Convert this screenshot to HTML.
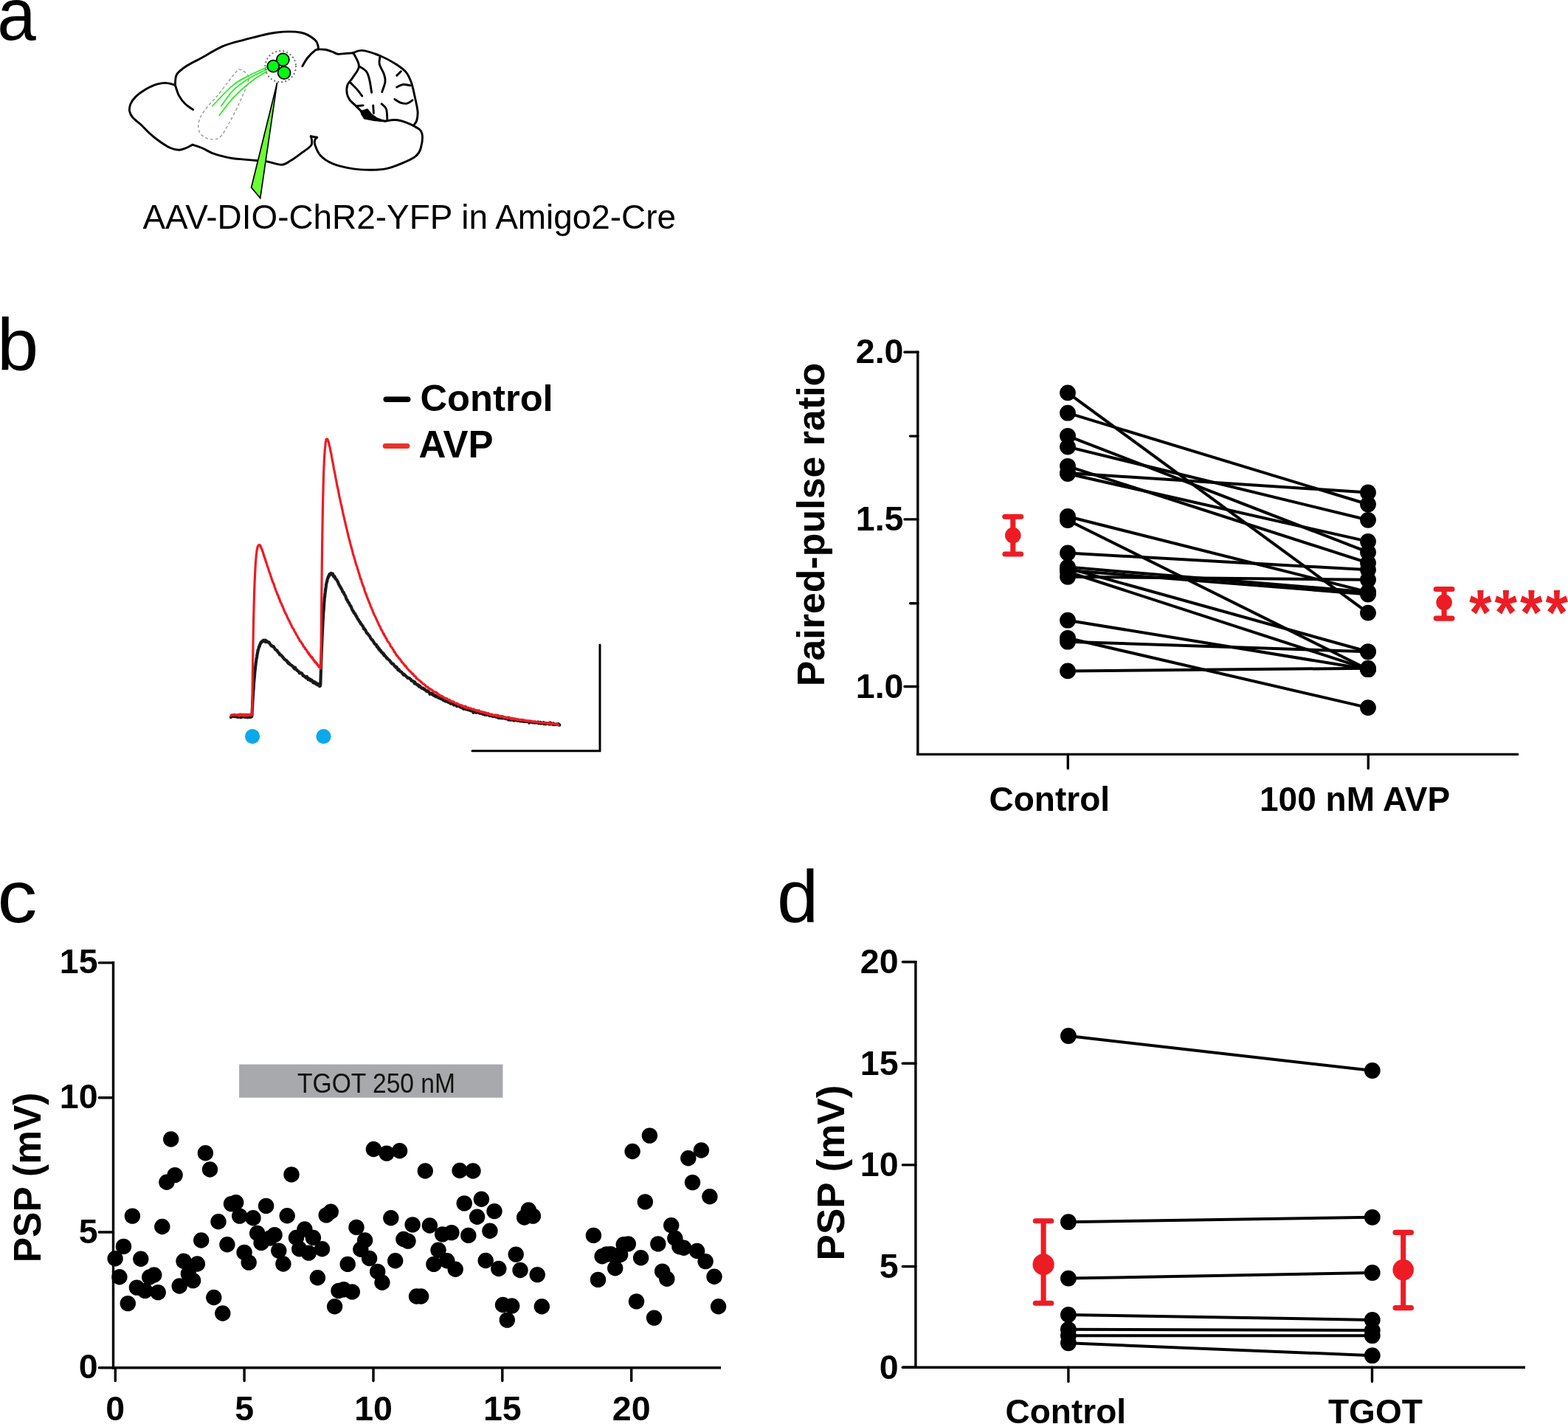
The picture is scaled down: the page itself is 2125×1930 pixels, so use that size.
<!DOCTYPE html>
<html><head><meta charset="utf-8"><title>Figure</title>
<style>
html,body{margin:0;padding:0;background:#fff;}
body{width:2125px;height:1930px;overflow:hidden;position:relative;}
svg{position:absolute;left:0;top:0;display:block;font-family:'Liberation Sans', Arial, Helvetica, sans-serif;}
</style></head><body>
<svg width="2125" height="1930" viewBox="0 0 2125 1930">
<rect x="0" y="0" width="2125" height="1930" fill="#fff"/>
<text transform="translate(-3.8,54) scale(0.935,1)" font-size="101">a</text>
<text x="-4.0" y="501.5" font-size="101" font-weight="normal" text-anchor="start" fill="#000" >b</text>
<text transform="translate(-3.6,1250.3) scale(1.065,1)" font-size="101">c</text>
<text x="1053.0" y="1250.3" font-size="101" font-weight="normal" text-anchor="start" fill="#000" >d</text>
<path d="M237.4,115.2 C237.8,112.8 237.0,105.2 239.5,101.0 C242.0,96.8 246.6,93.5 252.3,89.7 C258.0,85.9 265.3,82.8 273.6,78.3 C281.9,73.8 292.5,66.7 302.0,62.7 C311.5,58.7 318.7,57.2 330.5,54.1 C342.3,51.0 360.0,45.9 373.0,44.2 C386.0,42.6 399.4,42.6 408.4,44.2 C417.4,45.9 423.1,51.0 426.9,54.1 C430.7,57.2 430.4,60.6 431.1,62.7 C431.8,64.8 431.1,66.2 431.1,66.9" fill="none" stroke="#000" stroke-width="2.9" stroke-linecap="round" stroke-linejoin="round"/>
<path d="M431.1,66.9 C432.8,67.0 438.0,66.7 441.1,67.2 C444.2,67.7 447.2,69.0 450.0,70.0 C452.8,71.0 455.1,72.9 458.1,73.3 C461.1,73.7 464.7,72.7 468.0,72.5 C471.3,72.3 476.3,72.0 478.0,71.9" fill="none" stroke="#000" stroke-width="2.9" stroke-linecap="round"/>
<path d="M478.0,71.9 C480.1,71.3 484.7,67.8 490.8,68.4 C496.9,69.0 507.3,72.4 514.9,75.5 C522.5,78.6 530.4,83.0 536.3,86.8 C542.2,90.6 547.0,93.9 550.5,98.2 C554.0,102.5 555.7,107.2 557.6,112.4 C559.5,117.6 560.4,123.0 561.8,129.4 C563.2,135.8 565.5,145.0 566.0,150.7 C566.5,156.4 565.6,160.3 564.7,163.5 C563.8,166.7 561.1,168.9 560.4,170.0" fill="none" stroke="#000" stroke-width="2.9" stroke-linecap="round"/>
<path d="M431.1,66.9 C430.4,67.2 429.3,66.5 426.9,68.4 C424.5,70.3 419.8,74.8 416.9,78.3 C414.0,81.8 411.0,87.8 409.8,89.7" fill="none" stroke="#000" stroke-width="2.9" stroke-linecap="round"/>
<path d="M237.4,115.2 C235.2,114.7 228.5,112.4 223.9,112.4 C219.3,112.4 214.4,113.6 209.7,115.2 C205.0,116.8 199.8,119.7 195.5,122.3 C191.2,124.9 187.2,127.8 184.1,130.9 C181.0,134.0 178.4,137.5 177.0,140.8 C175.6,144.1 175.1,147.6 175.6,150.7 C176.1,153.8 177.3,156.2 179.9,159.3 C182.5,162.4 187.5,165.6 191.3,169.2 C195.1,172.8 198.3,176.8 202.6,180.6 C206.8,184.4 212.1,188.7 216.8,192.0 C221.5,195.3 226.7,198.6 231.0,200.5 C235.3,202.4 238.8,203.3 242.4,203.3 C246.0,203.3 249.2,201.7 252.3,200.5 C255.4,199.3 259.5,196.9 260.9,196.2" fill="none" stroke="#000" stroke-width="2.9" stroke-linecap="round"/>
<path d="M260.9,196.2 C263.0,196.9 269.1,198.6 273.6,200.5 C278.1,202.4 283.1,205.7 287.8,207.6 C292.5,209.5 297.3,210.6 302.0,211.8 C306.7,213.0 311.4,214.0 316.2,214.7 C320.9,215.4 325.5,215.6 330.5,216.1 C335.5,216.6 340.8,217.0 346.0,217.5 C351.2,218.0 355.8,218.0 361.7,218.9 C367.6,219.8 376.2,223.4 381.6,223.2 C387.0,223.0 389.7,220.1 394.2,217.5 C398.7,214.9 403.9,210.9 408.4,207.6 C412.9,204.3 418.8,200.4 421.2,197.6 C423.6,194.8 422.6,192.6 422.6,190.5 C422.6,188.4 421.4,185.8 421.2,184.8" fill="none" stroke="#000" stroke-width="2.9" stroke-linecap="round" stroke-linejoin="round"/>
<path d="M421.2,184.8 L429.7,186.2" fill="none" stroke="#000" stroke-width="2.9" stroke-linecap="round"/>
<path d="M429.7,186.2 C429.2,186.8 427.4,187.8 426.9,189.5 C426.4,191.2 425.7,192.7 426.9,196.2 C428.1,199.7 430.0,206.1 434.0,210.4 C438.0,214.7 443.4,218.7 451.0,221.8 C458.6,224.9 471.1,227.5 479.4,228.9 C487.7,230.3 493.6,230.3 500.7,230.3 C507.8,230.3 514.9,230.3 522.0,228.9 C529.1,227.5 536.5,224.7 543.4,221.8 C550.3,219.0 558.7,215.4 563.2,211.8 C567.7,208.2 568.9,205.7 570.3,200.5 C571.7,195.3 573.2,185.5 571.8,180.6 C570.4,175.7 567.3,174.3 561.8,171.3 C556.3,168.3 545.6,164.0 539.0,162.8 C532.4,161.6 524.8,164.0 522.0,164.2" fill="none" stroke="#000" stroke-width="2.9" stroke-linecap="round" stroke-linejoin="round"/>
<path d="M237.4,115.2 C238.2,117.6 240.2,125.1 242.4,129.4 C244.7,133.7 247.7,137.6 250.9,140.8 C254.1,144.0 259.8,147.3 261.6,148.6" fill="none" stroke="#000" stroke-width="2.9" stroke-linecap="round"/>
<path d="M479.4,72.6 C480.6,75.4 486.7,84.2 486.5,89.7 C486.3,95.2 480.6,101.0 478.0,105.3 C475.4,109.5 472.2,111.7 470.9,115.2 C469.6,118.8 469.7,123.3 470.2,126.6 C470.7,129.9 471.8,132.3 473.8,135.1 C475.8,137.9 479.7,141.0 482.3,143.6 C484.9,146.2 487.3,148.3 489.4,150.7 C491.5,153.1 494.1,156.6 495.0,157.8" fill="none" stroke="#000" stroke-width="2.9" stroke-linecap="round"/>
<path d="M486.5,89.7 C488.2,90.9 494.1,93.7 496.5,96.8 C498.9,99.9 499.5,103.4 500.7,108.1 C501.9,112.8 503.1,122.3 503.6,125.2" fill="none" stroke="#000" stroke-width="2.9" stroke-linecap="round"/>
<path d="M515.0,76.9 C514.9,78.6 513.3,82.8 514.2,86.8 C515.1,90.8 519.3,97.0 520.6,101.0 C521.9,105.0 522.5,107.1 522.0,111.0 C521.5,114.9 518.5,122.2 517.8,124.5" fill="none" stroke="#000" stroke-width="2.9" stroke-linecap="round"/>
<path d="M537.7,102.4 C538.7,101.5 542.5,97.7 543.4,96.8" fill="none" stroke="#000" stroke-width="2.9" stroke-linecap="round"/>
<path d="M537.7,118.1 C539.1,117.5 543.1,114.9 546.2,114.5 C549.3,114.1 554.5,115.7 556.1,115.9" fill="none" stroke="#000" stroke-width="2.9" stroke-linecap="round"/>
<path d="M534.8,134.4 C536.2,135.2 540.5,138.5 543.4,139.4 C546.2,140.3 549.3,140.7 551.9,140.1 C554.5,139.5 557.8,136.5 559.0,135.8" fill="none" stroke="#000" stroke-width="2.9" stroke-linecap="round"/>
<path d="M475.2,112.4 C476.6,113.8 481.1,118.0 483.7,120.9 C486.3,123.9 489.6,128.6 490.8,130.1" fill="none" stroke="#000" stroke-width="2.9" stroke-linecap="round"/>
<path d="M483.7,143.6 C485.1,143.5 490.8,143.0 492.2,142.9" fill="none" stroke="#000" stroke-width="2.9" stroke-linecap="round"/>
<path d="M505.7,142.9 C505.8,144.7 506.3,151.8 506.4,153.6" fill="none" stroke="#000" stroke-width="2.9" stroke-linecap="round"/>
<path d="M517.1,140.8 C518.2,142.0 522.2,144.1 523.5,147.9 C524.8,151.7 524.7,160.9 524.9,163.5" fill="none" stroke="#000" stroke-width="2.9" stroke-linecap="round"/>
<path d="M488.7,150.7 L497.9,147.9 L503.6,155 L510.7,160 L522,164.2 L507.8,163.5 L493.6,160.7 L490.1,155 Z" fill="#000" stroke="#000" stroke-width="1.5" stroke-linejoin="round"/>
<path d="M495.0,157.8 C497.1,158.5 503.3,160.9 507.8,162.0 C512.3,163.1 519.6,163.8 522.0,164.2" fill="none" stroke="#000" stroke-width="2.9"/>
<path d="M323.4,93.9 C324.4,94.2 327.4,94.3 329.7,96.0 C331.9,97.7 336.1,100.7 336.9,103.9 C337.7,107.1 336.2,110.5 334.7,115.2 C333.1,119.9 330.2,126.4 327.6,132.3 C325.0,138.2 322.2,144.5 319.1,150.7 C316.0,156.8 312.4,163.5 309.1,169.2 C305.8,174.9 302.8,181.5 299.2,184.8 C295.6,188.1 292.1,189.3 287.8,189.1 C283.5,188.9 276.8,186.2 273.6,183.4 C270.4,180.6 268.9,176.3 268.7,172.0 C268.5,167.7 269.9,162.5 272.2,157.8 C274.4,153.1 278.4,148.3 282.2,143.6 C286.0,138.9 290.4,134.8 294.9,129.4 C299.4,124.0 305.1,116.2 309.1,111.0 C313.1,105.8 316.7,101.0 319.1,98.2 C321.5,95.4 322.7,94.6 323.4,93.9" fill="none" stroke="#999" stroke-width="1.4" stroke-dasharray="4,3"/>
<path d="M361.7,91.1 C357.7,93.0 345.2,98.4 337.6,102.4 C330.0,106.4 324.5,108.3 316.2,115.2 C307.9,122.1 292.5,138.9 287.8,143.6" fill="none" stroke="#22F022" stroke-width="1.7" stroke-linecap="round"/>
<path d="M361.7,93.9 C357.9,95.8 346.6,100.6 339.0,105.3 C331.4,110.0 322.7,115.9 316.2,122.3 C309.7,128.7 302.6,140.0 299.9,143.6" fill="none" stroke="#22F022" stroke-width="1.7" stroke-linecap="round"/>
<path d="M361.7,96.8 C358.4,98.9 349.4,103.6 341.8,109.5 C334.2,115.4 323.6,124.5 316.2,132.3 C308.8,140.1 300.3,152.4 297.1,156.4" fill="none" stroke="#22F022" stroke-width="1.7" stroke-linecap="round"/>
<ellipse cx="380.2" cy="90.2" rx="20.8" ry="21.1" fill="none" stroke="#707070" stroke-width="2.3" stroke-dasharray="0.01,5.1" stroke-linecap="round"/>
<path d="M375.6,112 L340.6,254.1 L352.7,268.6 Z" fill="#6BFF33" stroke="#000" stroke-width="1.7" stroke-linejoin="miter"/>
<circle cx="383.4" cy="80.8" r="8.5" fill="#05FA10" stroke="#000" stroke-width="1.8"/>
<circle cx="370.3" cy="89.7" r="8.0" fill="#05FA10" stroke="#000" stroke-width="1.8"/>
<circle cx="385.1" cy="98.6" r="8.5" fill="#05FA10" stroke="#000" stroke-width="1.8"/>
<text x="193.4" y="310.0" font-size="45.9" font-weight="normal" text-anchor="start" fill="#000" >AAV-DIO-ChR2-YFP in Amigo2-Cre</text>
<path d="M313.00,972.14 L313.70,971.40 L314.40,971.21 L315.10,970.14 L315.80,971.01 L316.50,970.97 L317.20,971.12 L317.90,970.82 L318.60,971.14 L319.30,970.90 L320.00,970.44 L320.70,971.65 L321.40,971.65 L322.10,972.10 L322.35,971.19 L322.60,970.94 L322.85,970.86 L323.10,970.31 L323.35,971.70 L323.60,970.56 L323.85,970.51 L324.10,971.05 L324.35,971.98 L324.60,971.29 L324.85,970.60 L325.10,970.77 L325.35,971.50 L325.60,971.07 L325.85,970.74 L326.10,971.03 L326.35,971.57 L326.60,972.25 L326.85,970.48 L327.10,970.82 L327.35,970.72 L327.60,969.83 L327.85,970.65 L328.10,970.60 L328.35,971.78 L328.60,971.09 L328.85,970.27 L329.10,971.52 L329.35,970.96 L329.60,970.20 L329.85,970.83 L330.10,970.84 L330.35,970.68 L330.60,971.18 L330.85,969.92 L331.10,971.01 L331.35,971.72 L331.60,971.63 L331.85,971.77 L332.10,971.78 L332.35,971.98 L332.60,970.55 L332.85,971.63 L333.10,970.14 L333.35,970.83 L333.60,970.11 L333.85,971.74 L334.10,971.89 L334.35,971.05 L334.60,972.14 L334.85,970.79 L335.10,971.24 L335.35,971.24 L335.60,970.58 L335.85,971.40 L336.10,972.23 L336.35,970.60 L336.60,971.66 L336.85,971.08 L337.10,972.13 L337.35,971.43 L337.60,971.53 L337.85,971.51 L338.10,971.30 L338.35,970.39 L338.60,971.93 L338.85,970.41 L339.10,971.29 L339.35,971.50 L339.60,970.70 L339.85,971.24 L340.10,971.80 L340.35,971.15 L340.60,970.67 L340.85,969.56 L341.10,970.63 L341.35,970.84 L341.60,966.70 L341.85,961.45 L342.10,957.40 L342.35,952.30 L342.60,948.19 L342.85,944.45 L343.10,939.61 L343.35,936.11 L343.60,933.82 L343.85,929.64 L344.10,925.14 L344.35,922.64 L344.60,919.98 L344.85,917.46 L345.10,914.12 L345.35,911.13 L345.60,908.53 L345.85,906.91 L346.10,904.46 L346.35,901.85 L346.60,899.97 L346.85,897.90 L347.10,896.67 L347.35,894.12 L347.60,893.09 L347.85,891.70 L348.10,889.98 L348.35,887.82 L348.60,887.65 L348.85,885.25 L349.10,884.63 L349.35,882.82 L349.60,881.18 L349.85,881.22 L350.10,880.28 L350.35,879.15 L350.60,878.47 L350.85,877.14 L351.10,876.32 L351.35,875.90 L351.60,876.36 L351.85,875.12 L352.10,873.79 L352.35,873.82 L352.60,872.72 L352.85,872.25 L353.10,872.52 L353.35,871.34 L353.60,870.31 L353.85,870.38 L354.10,870.59 L354.35,870.31 L354.60,870.65 L354.85,869.32 L355.10,869.89 L355.35,869.52 L355.60,869.02 L355.85,869.40 L356.10,869.07 L356.35,868.20 L356.60,869.17 L356.85,867.82 L357.10,868.46 L357.35,868.38 L357.60,868.57 L357.85,867.92 L358.10,868.29 L358.35,868.24 L358.60,868.89 L358.85,867.94 L359.10,868.46 L359.35,868.33 L359.60,867.83 L359.85,870.09 L360.10,868.67 L360.35,867.99 L360.60,869.69 L360.85,868.44 L361.10,869.35 L361.35,869.75 L361.60,869.06 L362.30,869.61 L363.00,870.02 L363.70,870.76 L364.40,870.50 L365.10,871.30 L365.80,872.51 L366.50,873.80 L367.20,874.24 L367.90,875.52 L368.60,875.64 L369.30,875.68 L370.00,876.61 L370.70,876.28 L371.40,877.60 L372.10,878.31 L372.80,879.75 L373.50,880.70 L374.20,880.78 L374.90,881.51 L375.60,881.73 L376.30,883.25 L377.00,884.20 L377.70,885.05 L378.40,885.12 L379.10,887.38 L379.80,887.67 L380.50,887.69 L381.20,888.18 L381.90,889.01 L382.60,889.99 L383.30,890.61 L384.00,891.59 L384.70,892.45 L385.40,893.48 L386.10,894.05 L386.80,894.05 L387.50,895.01 L388.20,895.26 L388.90,895.82 L389.60,897.86 L390.30,897.22 L391.00,899.23 L391.70,898.59 L392.40,899.57 L393.10,900.67 L393.80,900.73 L394.50,901.56 L395.20,901.84 L395.90,902.33 L396.60,903.12 L397.30,903.46 L398.00,905.32 L398.70,904.93 L399.40,906.57 L400.10,904.73 L400.80,906.81 L401.50,907.69 L402.20,907.79 L402.90,909.12 L403.60,909.44 L404.30,909.50 L405.00,910.45 L405.70,912.30 L406.40,911.44 L407.10,912.01 L407.80,912.14 L408.50,912.99 L409.20,912.74 L409.90,913.86 L410.60,915.84 L411.30,915.59 L412.00,915.87 L412.70,916.63 L413.40,917.56 L414.10,917.35 L414.80,918.65 L415.05,918.28 L415.30,917.96 L415.55,918.98 L415.80,916.91 L416.05,918.07 L416.30,918.70 L416.55,918.23 L416.80,918.81 L417.05,918.72 L417.30,918.88 L417.55,920.90 L417.80,919.93 L418.05,919.72 L418.30,920.64 L418.55,919.96 L418.80,920.74 L419.05,920.61 L419.30,921.48 L419.55,919.97 L419.80,921.34 L420.05,921.15 L420.30,920.61 L420.55,922.00 L420.80,921.09 L421.05,922.63 L421.30,922.18 L421.55,922.44 L421.80,922.27 L422.05,922.88 L422.30,921.52 L422.55,922.74 L422.80,922.52 L423.05,923.18 L423.30,923.15 L423.55,923.68 L423.80,923.03 L424.05,924.66 L424.30,925.08 L424.55,923.85 L424.80,924.11 L425.05,924.43 L425.30,925.12 L425.55,925.62 L425.80,924.07 L426.05,924.55 L426.30,924.46 L426.55,924.58 L426.80,924.44 L427.05,925.70 L427.30,925.01 L427.55,926.62 L427.80,926.45 L428.05,925.53 L428.30,925.68 L428.55,926.06 L428.80,927.31 L429.05,926.22 L429.30,926.01 L429.55,926.96 L429.80,927.33 L430.05,926.91 L430.30,928.31 L430.55,927.70 L430.80,927.96 L431.05,927.38 L431.30,927.97 L431.55,928.05 L431.80,927.03 L432.05,928.58 L432.30,927.58 L432.55,928.69 L432.80,928.04 L433.05,930.10 L433.30,929.31 L433.55,929.74 L433.80,929.91 L434.05,928.82 L434.30,928.43 L434.55,920.56 L434.80,912.76 L435.05,904.28 L435.30,897.03 L435.55,889.89 L435.80,881.71 L436.05,876.20 L436.30,870.97 L436.55,863.76 L436.80,857.45 L437.05,853.22 L437.30,848.16 L437.55,843.98 L437.80,838.84 L438.05,835.21 L438.30,830.00 L438.55,827.97 L438.80,824.87 L439.05,821.39 L439.30,816.72 L439.55,814.79 L439.80,810.20 L440.05,809.39 L440.30,806.74 L440.55,803.92 L440.80,802.49 L441.05,800.34 L441.30,798.88 L441.55,796.65 L441.80,795.04 L442.05,792.27 L442.30,791.25 L442.55,790.27 L442.80,789.43 L443.05,788.09 L443.30,787.83 L443.55,785.52 L443.80,784.93 L444.05,784.35 L444.30,783.29 L444.55,782.97 L444.80,781.72 L445.05,782.22 L445.30,780.72 L445.55,781.02 L445.80,779.96 L446.05,780.41 L446.30,778.48 L446.55,779.23 L446.80,778.46 L447.05,778.61 L447.30,778.96 L447.55,777.54 L447.80,777.33 L448.05,777.44 L448.30,778.08 L448.55,776.89 L448.80,778.00 L449.05,777.28 L449.30,777.43 L449.55,777.94 L449.80,778.47 L450.05,778.05 L450.30,778.28 L450.55,778.70 L450.80,778.77 L451.05,777.65 L451.30,779.12 L451.55,779.64 L451.80,780.45 L452.05,781.25 L452.30,780.77 L452.55,780.75 L452.80,780.48 L453.05,781.38 L453.30,782.09 L453.55,782.70 L453.80,781.87 L454.05,782.84 L454.30,783.53 L454.55,784.48 L455.25,784.69 L455.95,785.40 L456.65,786.50 L457.35,787.90 L458.05,788.99 L458.75,791.08 L459.45,792.51 L460.15,793.63 L460.85,795.22 L461.55,795.65 L462.25,797.45 L462.95,798.37 L463.65,799.96 L464.35,801.96 L465.05,802.62 L465.75,802.96 L466.45,805.20 L467.15,806.29 L467.85,807.20 L468.55,808.93 L469.25,811.22 L469.95,812.94 L470.65,813.07 L471.35,815.20 L472.05,816.60 L472.75,816.61 L473.45,818.52 L474.15,819.80 L474.85,821.19 L475.55,821.49 L476.25,823.43 L476.95,825.46 L477.65,826.81 L478.35,828.36 L479.05,828.39 L479.75,830.82 L480.45,831.37 L481.15,831.46 L481.85,833.82 L482.55,834.39 L483.25,836.04 L483.95,836.87 L484.65,838.75 L485.35,839.38 L486.05,840.22 L486.75,842.05 L487.45,842.78 L488.15,843.53 L488.85,845.57 L489.55,845.75 L490.25,846.72 L490.95,847.86 L491.65,848.43 L492.35,850.00 L493.05,852.39 L493.75,851.92 L494.45,853.48 L495.15,853.90 L495.85,855.21 L496.55,857.41 L497.25,858.08 L497.95,858.26 L498.65,859.60 L499.35,860.14 L500.05,861.15 L500.75,862.06 L501.45,863.05 L502.15,864.69 L502.85,865.80 L503.55,866.69 L504.25,867.27 L504.95,867.56 L505.65,869.20 L506.35,869.65 L507.05,871.57 L507.75,872.30 L508.45,873.31 L509.15,873.60 L509.85,873.69 L510.55,876.10 L511.25,877.13 L511.95,876.51 L512.65,878.27 L513.35,879.71 L514.05,879.31 L514.75,881.72 L515.45,881.40 L516.15,881.83 L516.85,884.01 L517.55,884.24 L518.25,884.53 L518.95,886.19 L519.65,885.43 L520.35,888.30 L521.05,887.65 L521.75,889.04 L522.45,889.45 L523.15,890.68 L523.85,891.70 L524.55,891.52 L525.25,893.16 L525.95,893.32 L526.65,893.85 L527.35,894.85 L528.05,895.15 L528.75,896.00 L529.45,897.68 L530.15,897.80 L530.85,899.22 L531.55,899.54 L532.25,899.44 L532.95,899.66 L533.65,901.02 L534.35,902.23 L535.05,902.77 L535.75,902.99 L536.45,904.67 L537.15,903.82 L537.85,904.75 L538.55,906.17 L539.25,907.96 L539.95,907.63 L540.65,907.49 L541.35,909.01 L542.05,909.69 L542.75,910.46 L543.45,910.35 L544.15,910.75 L544.85,911.87 L545.55,912.64 L546.25,913.90 L546.95,914.77 L547.65,913.81 L548.35,914.52 L549.05,915.36 L549.75,915.84 L550.45,916.83 L551.15,917.40 L551.85,917.84 L552.55,919.01 L553.25,918.74 L553.95,918.81 L554.65,919.08 L555.35,919.92 L556.05,920.46 L556.75,920.54 L557.45,922.47 L558.15,922.74 L558.85,922.94 L559.55,923.20 L560.25,923.34 L560.95,924.22 L561.65,926.26 L562.35,924.53 L563.05,926.33 L563.75,927.16 L564.45,927.33 L565.15,927.57 L565.85,928.66 L566.55,928.11 L567.25,929.51 L567.95,930.47 L568.65,929.58 L569.35,930.17 L570.05,931.17 L570.75,932.10 L571.45,932.75 L572.15,932.85 L572.85,932.56 L573.55,932.76 L574.25,933.96 L574.95,934.48 L575.65,934.10 L576.35,935.17 L577.05,935.76 L577.75,936.58 L578.45,935.88 L579.15,937.16 L579.85,936.63 L580.55,937.45 L581.25,938.06 L581.95,939.35 L582.65,940.74 L583.35,939.46 L584.05,939.99 L584.75,940.67 L585.45,939.76 L586.15,941.33 L586.85,940.61 L587.55,942.57 L588.25,942.85 L588.95,942.71 L589.65,942.37 L590.35,944.11 L591.05,943.70 L591.75,943.99 L592.45,944.61 L593.15,943.71 L593.85,945.25 L594.55,945.92 L595.25,945.91 L595.95,946.15 L596.65,945.89 L597.35,947.12 L598.05,947.22 L598.75,947.45 L599.45,947.47 L600.15,948.59 L600.85,949.14 L601.55,948.99 L602.25,949.60 L602.95,950.16 L603.65,950.62 L604.35,950.19 L605.05,950.27 L605.75,950.47 L606.45,951.02 L607.15,951.62 L607.85,952.14 L608.55,951.70 L609.25,952.31 L609.95,951.98 L610.65,953.52 L611.35,952.91 L612.05,953.61 L612.75,953.31 L613.45,953.83 L614.15,953.90 L614.85,955.50 L615.55,955.04 L616.25,955.03 L616.95,954.88 L617.65,955.33 L618.35,956.25 L619.05,957.13 L619.75,955.69 L620.45,956.24 L621.15,956.91 L621.85,956.92 L622.55,956.62 L623.25,957.80 L623.95,958.45 L624.65,957.42 L625.35,958.66 L626.05,959.32 L626.75,959.58 L627.45,959.05 L628.15,960.79 L628.85,960.07 L629.55,959.56 L630.25,960.78 L630.95,959.86 L631.65,961.20 L632.35,960.25 L633.05,961.61 L633.75,961.08 L634.45,962.25 L635.15,962.25 L635.85,962.31 L636.55,962.32 L637.25,963.10 L637.95,961.73 L638.65,963.18 L639.35,963.38 L640.05,963.67 L640.75,964.03 L641.45,965.82 L642.15,964.05 L642.85,964.63 L643.55,964.48 L644.25,965.46 L644.95,963.68 L645.65,965.92 L646.35,964.81 L647.05,964.14 L647.75,964.98 L648.45,965.67 L649.15,966.06 L649.85,966.12 L650.55,966.78 L651.25,966.49 L651.95,966.66 L652.65,965.70 L653.35,967.32 L654.05,967.79 L654.75,967.18 L655.45,966.56 L656.15,967.03 L656.85,968.86 L657.55,967.77 L658.25,967.91 L658.95,967.99 L659.65,968.99 L660.35,968.45 L661.05,968.46 L661.75,968.28 L662.45,969.21 L663.15,969.98 L663.85,969.50 L664.55,970.23 L665.25,969.99 L665.95,970.13 L666.65,970.30 L667.35,970.38 L668.05,971.07 L668.75,970.93 L669.45,970.49 L670.15,971.02 L670.85,971.06 L671.55,971.51 L672.25,971.49 L672.95,971.76 L673.65,970.86 L674.35,972.02 L675.05,972.67 L675.75,971.34 L676.45,973.10 L677.15,972.52 L677.85,972.37 L678.55,971.63 L679.25,973.35 L679.95,972.35 L680.65,972.73 L681.35,973.44 L682.05,972.70 L682.75,972.85 L683.45,972.88 L684.15,973.58 L684.85,974.08 L685.55,974.10 L686.25,974.23 L686.95,973.93 L687.65,974.32 L688.35,973.98 L689.05,975.57 L689.75,974.69 L690.45,973.63 L691.15,974.23 L691.85,975.81 L692.55,974.28 L693.25,974.91 L693.95,975.48 L694.65,974.76 L695.35,976.06 L696.05,976.50 L696.75,975.23 L697.45,976.41 L698.15,975.40 L698.85,975.44 L699.55,976.23 L700.25,976.32 L700.95,975.96 L701.65,976.85 L702.35,975.68 L703.05,976.11 L703.75,976.09 L704.45,977.19 L705.15,977.31 L705.85,977.33 L706.55,976.34 L707.25,977.22 L707.95,977.49 L708.65,976.44 L709.35,976.97 L710.05,977.86 L710.75,977.98 L711.45,977.82 L712.15,978.06 L712.85,978.03 L713.55,978.02 L714.25,977.96 L714.95,977.62 L715.65,978.05 L716.35,978.04 L717.05,979.62 L717.75,978.57 L718.45,978.50 L719.15,978.45 L719.85,978.60 L720.55,978.59 L721.25,979.11 L721.95,978.87 L722.65,979.41 L723.35,978.65 L724.05,979.30 L724.75,979.66 L725.45,978.62 L726.15,979.42 L726.85,979.53 L727.55,979.28 L728.25,979.27 L728.95,978.58 L729.65,980.30 L730.35,979.22 L731.05,979.12 L731.75,980.23 L732.45,978.93 L733.15,980.53 L733.85,980.30 L734.55,980.45 L735.25,980.10 L735.95,979.58 L736.65,979.27 L737.35,981.17 L738.05,980.17 L738.75,980.21 L739.45,981.42 L740.15,980.26 L740.85,980.54 L741.55,980.59 L742.25,980.71 L742.95,980.27 L743.65,980.58 L744.35,981.66 L745.05,981.42 L745.75,979.42 L746.45,980.03 L747.15,981.35 L747.85,981.15 L748.55,981.06 L749.25,981.89 L749.95,980.39 L750.65,982.08 L751.35,981.54 L752.05,981.82 L752.75,981.71 L753.45,982.08 L754.15,981.53 L754.85,981.41 L755.55,982.19 L756.25,981.90 L756.95,981.16 L757.65,982.64 L758.35,982.60" fill="none" stroke="#1a1a1a" stroke-width="4.2" stroke-linejoin="round" stroke-linecap="round"/>
<path d="M313.00,969.76 L313.70,968.79 L314.40,969.01 L315.10,969.18 L315.80,968.64 L316.50,969.00 L317.20,969.00 L317.90,968.21 L318.60,969.46 L319.30,969.27 L320.00,968.72 L320.70,968.92 L321.40,969.23 L322.10,968.88 L322.35,968.89 L322.60,968.35 L322.85,969.25 L323.10,969.06 L323.35,969.12 L323.60,968.31 L323.85,969.74 L324.10,969.07 L324.35,968.83 L324.60,969.91 L324.85,968.98 L325.10,968.35 L325.35,968.82 L325.60,967.97 L325.85,969.47 L326.10,968.81 L326.35,968.67 L326.60,969.48 L326.85,968.26 L327.10,969.24 L327.35,968.07 L327.60,968.70 L327.85,968.46 L328.10,969.66 L328.35,969.79 L328.60,968.85 L328.85,969.38 L329.10,968.92 L329.35,969.26 L329.60,968.66 L329.85,968.23 L330.10,968.19 L330.35,969.17 L330.60,970.01 L330.85,969.12 L331.10,968.76 L331.35,969.86 L331.60,969.11 L331.85,969.05 L332.10,969.11 L332.35,968.94 L332.60,968.86 L332.85,968.35 L333.10,969.23 L333.35,968.96 L333.60,969.54 L333.85,968.83 L334.10,968.14 L334.35,968.96 L334.60,969.76 L334.85,968.83 L335.10,968.60 L335.35,968.46 L335.60,968.53 L335.85,968.86 L336.10,968.47 L336.35,969.67 L336.60,968.87 L336.85,969.05 L337.10,969.65 L337.35,969.68 L337.60,968.90 L337.85,969.15 L338.10,969.33 L338.35,968.91 L338.60,968.20 L338.85,969.29 L339.10,969.40 L339.35,969.19 L339.60,968.58 L339.85,968.91 L340.10,968.73 L340.35,968.87 L340.60,969.58 L340.85,969.69 L341.10,969.30 L341.35,969.25 L341.60,969.30 L341.85,955.31 L342.10,934.10 L342.35,914.53 L342.60,897.21 L342.85,882.23 L343.10,867.02 L343.35,853.20 L343.60,841.08 L343.85,829.93 L344.10,820.54 L344.35,811.51 L344.60,802.50 L344.85,795.95 L345.10,788.77 L345.35,783.61 L345.60,777.58 L345.85,773.36 L346.10,767.95 L346.35,764.06 L346.60,760.76 L346.85,757.93 L347.10,754.88 L347.35,751.56 L347.60,749.98 L347.85,747.95 L348.10,746.04 L348.35,744.45 L348.60,744.25 L348.85,742.19 L349.10,741.05 L349.35,740.95 L349.60,740.09 L349.85,739.50 L350.10,739.50 L350.35,739.09 L350.60,738.86 L350.85,739.04 L351.10,738.74 L351.35,738.40 L351.60,738.66 L351.85,738.79 L352.10,739.37 L352.35,739.11 L352.60,739.12 L352.85,740.39 L353.10,740.19 L353.35,740.39 L353.60,741.94 L353.85,741.99 L354.10,743.10 L354.35,743.22 L354.60,743.56 L354.85,744.14 L355.10,745.11 L355.35,745.88 L355.60,746.31 L355.85,747.24 L356.10,747.38 L356.35,748.78 L356.60,748.69 L356.85,750.14 L357.10,751.27 L357.35,752.19 L357.60,753.22 L357.85,752.50 L358.10,754.30 L358.35,755.26 L358.60,755.92 L358.85,755.82 L359.10,757.19 L359.35,758.61 L359.60,757.87 L359.85,759.53 L360.10,760.59 L360.35,760.54 L360.60,761.89 L360.85,761.92 L361.10,762.80 L361.35,763.57 L361.60,764.79 L361.85,765.43 L362.55,768.05 L363.25,769.33 L363.95,771.81 L364.65,774.40 L365.35,776.31 L366.05,777.52 L366.75,780.47 L367.45,781.98 L368.15,784.38 L368.85,786.34 L369.55,788.72 L370.25,790.18 L370.95,791.22 L371.65,793.35 L372.35,796.19 L373.05,797.62 L373.75,800.10 L374.45,801.55 L375.15,802.91 L375.85,805.53 L376.55,806.46 L377.25,807.66 L377.95,811.26 L378.65,811.20 L379.35,814.05 L380.05,815.88 L380.75,817.19 L381.45,818.02 L382.15,820.88 L382.85,821.39 L383.55,823.04 L384.25,825.07 L384.95,827.16 L385.65,828.50 L386.35,830.27 L387.05,831.23 L387.75,832.86 L388.45,833.91 L389.15,835.76 L389.85,837.63 L390.55,838.68 L391.25,840.46 L391.95,841.40 L392.65,842.80 L393.35,844.47 L394.05,845.74 L394.75,847.45 L395.45,848.61 L396.15,850.65 L396.85,851.08 L397.55,852.38 L398.25,853.31 L398.95,855.06 L399.65,856.63 L400.35,857.24 L401.05,858.79 L401.75,860.36 L402.45,861.19 L403.15,862.22 L403.85,864.08 L404.55,864.86 L405.25,866.16 L405.95,867.66 L406.65,868.79 L407.35,869.25 L408.05,870.29 L408.75,871.76 L409.45,872.67 L410.15,872.95 L410.85,875.46 L411.55,875.95 L412.25,877.33 L412.95,877.51 L413.65,879.64 L414.35,879.82 L415.05,881.04 L415.30,880.82 L415.55,881.73 L415.80,882.06 L416.05,882.43 L416.30,883.07 L416.55,883.25 L416.80,884.01 L417.05,883.71 L417.30,883.82 L417.55,884.60 L417.80,885.24 L418.05,885.86 L418.30,886.01 L418.55,885.19 L418.80,886.49 L419.05,887.32 L419.30,887.03 L419.55,887.10 L419.80,887.81 L420.05,887.78 L420.30,888.63 L420.55,888.66 L420.80,889.63 L421.05,889.55 L421.30,889.33 L421.55,890.26 L421.80,890.73 L422.05,890.38 L422.30,890.76 L422.55,890.24 L422.80,892.00 L423.05,891.65 L423.30,891.28 L423.55,891.76 L423.80,892.77 L424.05,893.53 L424.30,893.46 L424.55,894.02 L424.80,893.63 L425.05,893.83 L425.30,895.14 L425.55,895.27 L425.80,895.34 L426.05,896.24 L426.30,895.54 L426.55,896.08 L426.80,897.04 L427.05,897.70 L427.30,897.18 L427.55,898.23 L427.80,897.50 L428.05,898.22 L428.30,898.29 L428.55,897.95 L428.80,899.07 L429.05,899.67 L429.30,899.47 L429.55,899.80 L429.80,900.75 L430.05,899.85 L430.30,900.02 L430.55,900.69 L430.80,900.73 L431.05,902.16 L431.30,901.97 L431.55,901.73 L431.80,902.12 L432.05,903.97 L432.30,902.68 L432.55,902.89 L432.80,903.65 L433.05,904.08 L433.30,904.17 L433.55,903.93 L433.80,904.09 L434.05,905.15 L434.30,905.13 L434.55,904.69 L434.80,906.22 L435.05,899.23 L435.30,865.71 L435.55,835.88 L435.80,809.22 L436.05,784.58 L436.30,762.47 L436.55,743.60 L436.80,725.17 L437.05,710.16 L437.30,695.13 L437.55,683.00 L437.80,671.60 L438.05,662.29 L438.30,651.93 L438.55,643.70 L438.80,636.87 L439.05,630.31 L439.30,624.94 L439.55,620.46 L439.80,616.29 L440.05,612.92 L440.30,608.57 L440.55,607.27 L440.80,604.56 L441.05,601.54 L441.30,598.90 L441.55,598.49 L441.80,597.44 L442.05,595.50 L442.30,595.92 L442.55,595.36 L442.80,594.83 L443.05,595.38 L443.30,595.61 L443.55,595.13 L443.80,595.77 L444.05,595.80 L444.30,596.27 L444.55,597.28 L444.80,598.17 L445.05,598.46 L445.30,598.55 L445.55,600.71 L445.80,600.67 L446.05,602.44 L446.30,604.23 L446.55,604.50 L446.80,605.08 L447.05,606.10 L447.30,608.45 L447.55,609.11 L447.80,610.57 L448.05,611.98 L448.30,612.79 L448.55,613.93 L448.80,614.92 L449.05,615.24 L449.30,617.24 L449.55,619.19 L449.80,620.46 L450.05,622.03 L450.30,623.11 L450.55,624.56 L450.80,626.17 L451.05,626.74 L451.30,628.34 L451.55,629.07 L451.80,631.56 L452.05,632.47 L452.30,634.00 L452.55,635.80 L452.80,636.91 L453.05,637.72 L453.30,639.42 L453.55,639.74 L453.80,641.90 L454.05,643.08 L454.30,643.59 L454.55,646.23 L454.80,646.61 L455.05,648.53 L455.75,651.65 L456.45,655.86 L457.15,659.55 L457.85,662.09 L458.55,665.25 L459.25,669.32 L459.95,673.16 L460.65,675.98 L461.35,679.20 L462.05,682.98 L462.75,684.78 L463.45,688.94 L464.15,691.80 L464.85,695.70 L465.55,698.35 L466.25,701.26 L466.95,704.64 L467.65,707.15 L468.35,710.78 L469.05,713.42 L469.75,716.47 L470.45,719.19 L471.15,722.77 L471.85,725.12 L472.55,728.19 L473.25,730.92 L473.95,733.06 L474.65,736.37 L475.35,738.93 L476.05,741.54 L476.75,743.82 L477.45,746.38 L478.15,749.46 L478.85,752.60 L479.55,753.73 L480.25,756.81 L480.95,758.83 L481.65,761.75 L482.35,763.97 L483.05,766.60 L483.75,767.19 L484.45,770.47 L485.15,772.57 L485.85,775.21 L486.55,777.16 L487.25,779.39 L487.95,782.16 L488.65,784.85 L489.35,784.85 L490.05,788.08 L490.75,790.44 L491.45,792.35 L492.15,794.23 L492.85,795.78 L493.55,797.95 L494.25,800.67 L494.95,802.76 L495.65,804.24 L496.35,805.72 L497.05,808.02 L497.75,809.73 L498.45,811.92 L499.15,813.54 L499.85,815.00 L500.55,817.14 L501.25,818.28 L501.95,820.92 L502.65,822.80 L503.35,823.44 L504.05,825.84 L504.75,826.86 L505.45,829.43 L506.15,830.98 L506.85,832.08 L507.55,834.22 L508.25,835.15 L508.95,836.61 L509.65,838.18 L510.35,839.89 L511.05,841.31 L511.75,843.01 L512.45,844.13 L513.15,846.21 L513.85,847.76 L514.55,848.50 L515.25,849.49 L515.95,851.85 L516.65,853.41 L517.35,854.18 L518.05,855.02 L518.75,857.05 L519.45,858.94 L520.15,858.71 L520.85,861.05 L521.55,861.97 L522.25,862.99 L522.95,864.84 L523.65,865.27 L524.35,867.20 L525.05,868.86 L525.75,869.54 L526.45,870.25 L527.15,871.01 L527.85,872.39 L528.55,873.28 L529.25,875.95 L529.95,876.24 L530.65,876.98 L531.35,877.96 L532.05,879.14 L532.75,880.54 L533.45,881.17 L534.15,883.55 L534.85,883.49 L535.55,884.50 L536.25,886.00 L536.95,887.51 L537.65,888.45 L538.35,888.61 L539.05,889.91 L539.75,890.82 L540.45,891.94 L541.15,892.75 L541.85,893.14 L542.55,893.92 L543.25,895.47 L543.95,895.75 L544.65,897.79 L545.35,898.07 L546.05,898.46 L546.75,899.64 L547.45,900.40 L548.15,901.41 L548.85,902.73 L549.55,902.48 L550.25,903.10 L550.95,904.90 L551.65,905.46 L552.35,906.40 L553.05,907.31 L553.75,907.80 L554.45,909.00 L555.15,909.00 L555.85,910.18 L556.55,910.51 L557.25,911.11 L557.95,912.62 L558.65,913.31 L559.35,912.89 L560.05,913.96 L560.75,915.29 L561.45,916.33 L562.15,916.22 L562.85,917.11 L563.55,917.22 L564.25,919.64 L564.95,919.38 L565.65,920.21 L566.35,920.74 L567.05,921.50 L567.75,921.97 L568.45,922.16 L569.15,923.26 L569.85,923.57 L570.55,924.71 L571.25,924.39 L571.95,925.06 L572.65,926.18 L573.35,927.03 L574.05,927.09 L574.75,927.26 L575.45,928.08 L576.15,928.46 L576.85,930.08 L577.55,930.17 L578.25,930.87 L578.95,930.96 L579.65,931.10 L580.35,932.39 L581.05,933.12 L581.75,933.14 L582.45,933.37 L583.15,934.36 L583.85,934.20 L584.55,935.20 L585.25,935.01 L585.95,935.37 L586.65,936.53 L587.35,936.89 L588.05,938.06 L588.75,937.53 L589.45,938.12 L590.15,938.04 L590.85,938.16 L591.55,938.63 L592.25,940.08 L592.95,939.77 L593.65,941.23 L594.35,941.78 L595.05,941.43 L595.75,942.72 L596.45,942.48 L597.15,943.29 L597.85,943.08 L598.55,944.01 L599.25,943.54 L599.95,944.63 L600.65,944.53 L601.35,945.06 L602.05,945.78 L602.75,945.94 L603.45,946.20 L604.15,946.93 L604.85,947.32 L605.55,946.69 L606.25,947.92 L606.95,948.32 L607.65,948.03 L608.35,948.89 L609.05,948.46 L609.75,950.04 L610.45,949.62 L611.15,950.02 L611.85,950.92 L612.55,950.64 L613.25,951.30 L613.95,950.87 L614.65,951.40 L615.35,951.34 L616.05,952.18 L616.75,953.05 L617.45,952.99 L618.15,953.58 L618.85,953.02 L619.55,953.38 L620.25,953.86 L620.95,954.61 L621.65,954.80 L622.35,954.92 L623.05,955.48 L623.75,955.41 L624.45,955.75 L625.15,956.62 L625.85,956.03 L626.55,956.65 L627.25,957.56 L627.95,957.14 L628.65,957.67 L629.35,957.34 L630.05,958.74 L630.75,957.10 L631.45,957.86 L632.15,958.14 L632.85,959.59 L633.55,959.26 L634.25,959.23 L634.95,959.01 L635.65,959.98 L636.35,960.10 L637.05,959.97 L637.75,959.84 L638.45,960.25 L639.15,961.07 L639.85,961.33 L640.55,961.45 L641.25,961.57 L641.95,961.06 L642.65,962.09 L643.35,961.82 L644.05,962.51 L644.75,962.91 L645.45,962.61 L646.15,962.66 L646.85,963.77 L647.55,963.69 L648.25,963.44 L648.95,962.58 L649.65,964.10 L650.35,964.60 L651.05,965.02 L651.75,964.40 L652.45,964.61 L653.15,964.89 L653.85,965.65 L654.55,964.93 L655.25,965.59 L655.95,965.41 L656.65,966.13 L657.35,965.49 L658.05,966.53 L658.75,966.32 L659.45,966.62 L660.15,967.13 L660.85,967.58 L661.55,966.47 L662.25,967.85 L662.95,967.82 L663.65,967.60 L664.35,968.53 L665.05,968.15 L665.75,968.81 L666.45,968.12 L667.15,968.16 L667.85,969.26 L668.55,969.84 L669.25,969.30 L669.95,969.57 L670.65,969.11 L671.35,968.88 L672.05,969.53 L672.75,970.45 L673.45,969.09 L674.15,969.85 L674.85,969.36 L675.55,970.41 L676.25,970.90 L676.95,970.09 L677.65,970.61 L678.35,971.53 L679.05,971.03 L679.75,970.65 L680.45,970.75 L681.15,970.57 L681.85,971.96 L682.55,971.41 L683.25,972.36 L683.95,972.41 L684.65,971.85 L685.35,972.04 L686.05,972.76 L686.75,972.60 L687.45,972.78 L688.15,972.04 L688.85,973.32 L689.55,972.64 L690.25,972.14 L690.95,973.00 L691.65,973.59 L692.35,974.47 L693.05,973.48 L693.75,973.16 L694.45,974.84 L695.15,974.07 L695.85,974.00 L696.55,973.75 L697.25,973.89 L697.95,975.12 L698.65,974.45 L699.35,974.44 L700.05,974.57 L700.75,975.61 L701.45,974.75 L702.15,975.41 L702.85,975.35 L703.55,975.45 L704.25,975.05 L704.95,975.85 L705.65,976.39 L706.35,975.74 L707.05,975.46 L707.75,975.39 L708.45,976.16 L709.15,976.06 L709.85,976.23 L710.55,976.39 L711.25,975.82 L711.95,976.93 L712.65,976.79 L713.35,976.75 L714.05,976.98 L714.75,977.39 L715.45,977.09 L716.15,976.78 L716.85,977.79 L717.55,977.16 L718.25,977.12 L718.95,976.84 L719.65,977.64 L720.35,977.26 L721.05,977.59 L721.75,978.11 L722.45,978.02 L723.15,978.55 L723.85,978.32 L724.55,978.09 L725.25,978.21 L725.95,978.22 L726.65,978.83 L727.35,978.63 L728.05,978.52 L728.75,979.18 L729.45,978.92 L730.15,978.76 L730.85,978.37 L731.55,979.33 L732.25,979.33 L732.95,979.33 L733.65,979.19 L734.35,979.09 L735.05,979.45 L735.75,979.73 L736.45,979.65 L737.15,979.73 L737.85,979.66 L738.55,980.10 L739.25,980.14 L739.95,979.77 L740.65,980.53 L741.35,980.62 L742.05,980.71 L742.75,980.36 L743.45,980.41 L744.15,980.05 L744.85,980.99 L745.55,979.77 L746.25,980.63 L746.95,980.72 L747.65,981.34 L748.35,981.03 L749.05,980.67 L749.75,980.53 L750.45,980.92 L751.15,981.37 L751.85,981.42 L752.55,981.37 L753.25,981.23 L753.95,981.51 L754.65,982.13 L755.35,981.25 L756.05,981.83 L756.75,982.62" fill="none" stroke="#ED1C24" stroke-width="3.2" stroke-linejoin="round" stroke-linecap="round"/>
<circle cx="342.1" cy="998.2" r="10.1" fill="#0BA9EC"/>
<circle cx="438.5" cy="998.2" r="10.1" fill="#0BA9EC"/>
<path d="M640,1017.8 L813,1017.8 L813,874" fill="none" stroke="#000" stroke-width="3" stroke-linecap="round"/>
<line x1="523.2" y1="541.3" x2="552.8" y2="541.3" stroke="#000" stroke-width="7.4" stroke-linecap="round"/>
<line x1="522.2" y1="604.6" x2="551.9" y2="604.6" stroke="#E8332A" stroke-width="7.0" stroke-linecap="round"/>
<text x="569.5" y="556.6" font-size="50.7" font-weight="bold" text-anchor="start" fill="#000" >Control</text>
<text x="567.5" y="619.5" font-size="51" font-weight="bold" text-anchor="start" fill="#000" >AVP</text>
<line x1="1243.8" y1="475.6" x2="1243.8" y2="1024.1" stroke="#000" stroke-width="3.4" stroke-linecap="butt"/>
<line x1="1242.1" y1="1022.4" x2="2058.0" y2="1022.4" stroke="#000" stroke-width="3.4" stroke-linecap="butt"/>
<line x1="1226.0" y1="477.3" x2="1243.8" y2="477.3" stroke="#000" stroke-width="3.4" stroke-linecap="round"/>
<line x1="1226.0" y1="703.9" x2="1243.8" y2="703.9" stroke="#000" stroke-width="3.4" stroke-linecap="round"/>
<line x1="1226.0" y1="930.5" x2="1243.8" y2="930.5" stroke="#000" stroke-width="3.4" stroke-linecap="round"/>
<line x1="1233.5" y1="591.1" x2="1243.8" y2="591.1" stroke="#000" stroke-width="3.4" stroke-linecap="round"/>
<line x1="1233.5" y1="817.7" x2="1243.8" y2="817.7" stroke="#000" stroke-width="3.4" stroke-linecap="round"/>
<line x1="1447.3" y1="1022.4" x2="1447.3" y2="1041.6" stroke="#000" stroke-width="3.4" stroke-linecap="round"/>
<line x1="1854.3" y1="1022.4" x2="1854.3" y2="1041.6" stroke="#000" stroke-width="3.4" stroke-linecap="round"/>
<text x="1224.5" y="492.3" font-size="46.5" font-weight="bold" text-anchor="end" fill="#000" >2.0</text>
<text x="1224.5" y="719.0" font-size="46.5" font-weight="bold" text-anchor="end" fill="#000" >1.5</text>
<text x="1224.5" y="945.5" font-size="46.5" font-weight="bold" text-anchor="end" fill="#000" >1.0</text>
<text x="1340.5" y="1099.0" font-size="46" font-weight="bold" text-anchor="start" fill="#000" >Control</text>
<text x="1707.0" y="1099.0" font-size="46" font-weight="bold" text-anchor="start" fill="#000" >100 nM AVP</text>
<text transform="translate(1117.3,930.2) rotate(-90)" font-size="52" font-weight="bold" textLength="438.5" lengthAdjust="spacingAndGlyphs">Paired-pulse ratio</text>
<line x1="1447.0" y1="532.4" x2="1854.0" y2="830.6" stroke="#000" stroke-width="4.0" stroke-linecap="butt"/>
<line x1="1447.0" y1="559.7" x2="1854.0" y2="683.5" stroke="#000" stroke-width="4.0" stroke-linecap="butt"/>
<line x1="1447.0" y1="590.8" x2="1854.0" y2="748.4" stroke="#000" stroke-width="4.0" stroke-linecap="butt"/>
<line x1="1447.0" y1="605.6" x2="1854.0" y2="704.8" stroke="#000" stroke-width="4.0" stroke-linecap="butt"/>
<line x1="1447.0" y1="631.8" x2="1854.0" y2="762.9" stroke="#000" stroke-width="4.0" stroke-linecap="butt"/>
<line x1="1447.0" y1="641.0" x2="1854.0" y2="667.5" stroke="#000" stroke-width="4.0" stroke-linecap="butt"/>
<line x1="1447.0" y1="642.0" x2="1854.0" y2="733.9" stroke="#000" stroke-width="4.0" stroke-linecap="butt"/>
<line x1="1447.0" y1="700.0" x2="1854.0" y2="802.4" stroke="#000" stroke-width="4.0" stroke-linecap="butt"/>
<line x1="1447.0" y1="705.0" x2="1854.0" y2="907.2" stroke="#000" stroke-width="4.0" stroke-linecap="butt"/>
<line x1="1447.0" y1="749.5" x2="1854.0" y2="772.3" stroke="#000" stroke-width="4.0" stroke-linecap="butt"/>
<line x1="1447.0" y1="768.6" x2="1854.0" y2="802.4" stroke="#000" stroke-width="4.0" stroke-linecap="butt"/>
<line x1="1447.0" y1="773.0" x2="1854.0" y2="805.5" stroke="#000" stroke-width="4.0" stroke-linecap="butt"/>
<line x1="1447.0" y1="770.0" x2="1854.0" y2="883.3" stroke="#000" stroke-width="4.0" stroke-linecap="butt"/>
<line x1="1447.0" y1="775.0" x2="1854.0" y2="907.2" stroke="#000" stroke-width="4.0" stroke-linecap="butt"/>
<line x1="1447.0" y1="781.8" x2="1854.0" y2="785.8" stroke="#000" stroke-width="4.0" stroke-linecap="butt"/>
<line x1="1447.0" y1="840.7" x2="1854.0" y2="907.2" stroke="#000" stroke-width="4.0" stroke-linecap="butt"/>
<line x1="1447.0" y1="864.8" x2="1854.0" y2="959.1" stroke="#000" stroke-width="4.0" stroke-linecap="butt"/>
<line x1="1447.0" y1="869.7" x2="1854.0" y2="883.3" stroke="#000" stroke-width="4.0" stroke-linecap="butt"/>
<line x1="1447.0" y1="909.4" x2="1854.0" y2="905.7" stroke="#000" stroke-width="4.0" stroke-linecap="butt"/>
<circle cx="1447.0" cy="532.4" r="10.9" fill="#000"/>
<circle cx="1854.0" cy="830.6" r="10.9" fill="#000"/>
<circle cx="1447.0" cy="559.7" r="10.9" fill="#000"/>
<circle cx="1854.0" cy="683.5" r="10.9" fill="#000"/>
<circle cx="1447.0" cy="590.8" r="10.9" fill="#000"/>
<circle cx="1854.0" cy="748.4" r="10.9" fill="#000"/>
<circle cx="1447.0" cy="605.6" r="10.9" fill="#000"/>
<circle cx="1854.0" cy="704.8" r="10.9" fill="#000"/>
<circle cx="1447.0" cy="631.8" r="10.9" fill="#000"/>
<circle cx="1854.0" cy="762.9" r="10.9" fill="#000"/>
<circle cx="1447.0" cy="641.0" r="10.9" fill="#000"/>
<circle cx="1854.0" cy="667.5" r="10.9" fill="#000"/>
<circle cx="1447.0" cy="642.0" r="10.9" fill="#000"/>
<circle cx="1854.0" cy="733.9" r="10.9" fill="#000"/>
<circle cx="1447.0" cy="700.0" r="10.9" fill="#000"/>
<circle cx="1854.0" cy="802.4" r="10.9" fill="#000"/>
<circle cx="1447.0" cy="705.0" r="10.9" fill="#000"/>
<circle cx="1854.0" cy="907.2" r="10.9" fill="#000"/>
<circle cx="1447.0" cy="749.5" r="10.9" fill="#000"/>
<circle cx="1854.0" cy="772.3" r="10.9" fill="#000"/>
<circle cx="1447.0" cy="768.6" r="10.9" fill="#000"/>
<circle cx="1854.0" cy="802.4" r="10.9" fill="#000"/>
<circle cx="1447.0" cy="773.0" r="10.9" fill="#000"/>
<circle cx="1854.0" cy="805.5" r="10.9" fill="#000"/>
<circle cx="1447.0" cy="770.0" r="10.9" fill="#000"/>
<circle cx="1854.0" cy="883.3" r="10.9" fill="#000"/>
<circle cx="1447.0" cy="775.0" r="10.9" fill="#000"/>
<circle cx="1854.0" cy="907.2" r="10.9" fill="#000"/>
<circle cx="1447.0" cy="781.8" r="10.9" fill="#000"/>
<circle cx="1854.0" cy="785.8" r="10.9" fill="#000"/>
<circle cx="1447.0" cy="840.7" r="10.9" fill="#000"/>
<circle cx="1854.0" cy="907.2" r="10.9" fill="#000"/>
<circle cx="1447.0" cy="864.8" r="10.9" fill="#000"/>
<circle cx="1854.0" cy="959.1" r="10.9" fill="#000"/>
<circle cx="1447.0" cy="869.7" r="10.9" fill="#000"/>
<circle cx="1854.0" cy="883.3" r="10.9" fill="#000"/>
<circle cx="1447.0" cy="909.4" r="10.9" fill="#000"/>
<circle cx="1854.0" cy="905.7" r="10.9" fill="#000"/>
<line x1="1372.8" y1="700.3" x2="1372.8" y2="751.0" stroke="#ED1C24" stroke-width="7.1" stroke-linecap="butt"/>
<line x1="1361.9" y1="700.3" x2="1383.7" y2="700.3" stroke="#ED1C24" stroke-width="7.1" stroke-linecap="round"/>
<line x1="1361.9" y1="751.0" x2="1383.7" y2="751.0" stroke="#ED1C24" stroke-width="7.1" stroke-linecap="round"/>
<circle cx="1372.8" cy="725.6" r="10.8" fill="#ED1C24"/>
<line x1="1957.1" y1="798.5" x2="1957.1" y2="838.1" stroke="#ED1C24" stroke-width="7.1" stroke-linecap="butt"/>
<line x1="1946.2" y1="798.5" x2="1968.0" y2="798.5" stroke="#ED1C24" stroke-width="7.1" stroke-linecap="round"/>
<line x1="1946.2" y1="838.1" x2="1968.0" y2="838.1" stroke="#ED1C24" stroke-width="7.1" stroke-linecap="round"/>
<circle cx="1957.1" cy="816.3" r="10.8" fill="#ED1C24"/>
<text transform="translate(1991.0,859.5) scale(0.89,1)" font-size="88" font-weight="bold" letter-spacing="4.5" fill="#ED1C24">****</text>
<line x1="153.5" y1="1303.0" x2="153.5" y2="1855.4" stroke="#000" stroke-width="3.4" stroke-linecap="butt"/>
<line x1="151.8" y1="1853.7" x2="977.0" y2="1853.7" stroke="#000" stroke-width="3.4" stroke-linecap="butt"/>
<line x1="134.3" y1="1304.9" x2="153.5" y2="1304.9" stroke="#000" stroke-width="3.4" stroke-linecap="round"/>
<text x="132.5" y="1319.4" font-size="46.5" font-weight="bold" text-anchor="end" fill="#000" >15</text>
<line x1="134.3" y1="1487.8" x2="153.5" y2="1487.8" stroke="#000" stroke-width="3.4" stroke-linecap="round"/>
<text x="132.5" y="1502.3" font-size="46.5" font-weight="bold" text-anchor="end" fill="#000" >10</text>
<line x1="134.3" y1="1670.0" x2="153.5" y2="1670.0" stroke="#000" stroke-width="3.4" stroke-linecap="round"/>
<text x="132.5" y="1684.5" font-size="46.5" font-weight="bold" text-anchor="end" fill="#000" >5</text>
<line x1="134.3" y1="1853.7" x2="153.5" y2="1853.7" stroke="#000" stroke-width="3.4" stroke-linecap="round"/>
<text x="132.5" y="1868.2" font-size="46.5" font-weight="bold" text-anchor="end" fill="#000" >0</text>
<line x1="156.3" y1="1853.7" x2="156.3" y2="1871.5" stroke="#000" stroke-width="3.4" stroke-linecap="round"/>
<text x="156.3" y="1924.5" font-size="46.5" font-weight="bold" text-anchor="middle" fill="#000" >0</text>
<line x1="331.1" y1="1853.7" x2="331.1" y2="1871.5" stroke="#000" stroke-width="3.4" stroke-linecap="round"/>
<text x="331.1" y="1924.5" font-size="46.5" font-weight="bold" text-anchor="middle" fill="#000" >5</text>
<line x1="506.0" y1="1853.7" x2="506.0" y2="1871.5" stroke="#000" stroke-width="3.4" stroke-linecap="round"/>
<text x="506.0" y="1924.5" font-size="46.5" font-weight="bold" text-anchor="middle" fill="#000" >10</text>
<line x1="680.8" y1="1853.7" x2="680.8" y2="1871.5" stroke="#000" stroke-width="3.4" stroke-linecap="round"/>
<text x="680.8" y="1924.5" font-size="46.5" font-weight="bold" text-anchor="middle" fill="#000" >15</text>
<line x1="855.7" y1="1853.7" x2="855.7" y2="1871.5" stroke="#000" stroke-width="3.4" stroke-linecap="round"/>
<text x="855.7" y="1924.5" font-size="46.5" font-weight="bold" text-anchor="middle" fill="#000" >20</text>
<text transform="translate(55,1711.3) rotate(-90)" font-size="51" font-weight="bold" textLength="230.8" lengthAdjust="spacingAndGlyphs">PSP (mV)</text>
<rect x="324.1" y="1442.6" width="357.3" height="45.1" fill="#A7A9AC"/>
<text x="403" y="1481" font-size="36.5" textLength="214" lengthAdjust="spacingAndGlyphs" fill="#111">TGOT 250 nM</text>
<circle cx="156.1" cy="1705.8" r="10.7" fill="#000"/>
<circle cx="167.5" cy="1689.4" r="10.7" fill="#000"/>
<circle cx="161.9" cy="1730.7" r="10.7" fill="#000"/>
<circle cx="173.3" cy="1766.6" r="10.7" fill="#000"/>
<circle cx="179.4" cy="1648.1" r="10.7" fill="#000"/>
<circle cx="185.4" cy="1745.1" r="10.7" fill="#000"/>
<circle cx="190.8" cy="1706.2" r="10.7" fill="#000"/>
<circle cx="196.6" cy="1749.4" r="10.7" fill="#000"/>
<circle cx="202.7" cy="1731.0" r="10.7" fill="#000"/>
<circle cx="208.8" cy="1728.0" r="10.7" fill="#000"/>
<circle cx="214.2" cy="1751.6" r="10.7" fill="#000"/>
<circle cx="219.8" cy="1662.5" r="10.7" fill="#000"/>
<circle cx="225.9" cy="1602.3" r="10.7" fill="#000"/>
<circle cx="237.1" cy="1592.6" r="10.7" fill="#000"/>
<circle cx="231.7" cy="1544.0" r="10.7" fill="#000"/>
<circle cx="243.2" cy="1743.0" r="10.7" fill="#000"/>
<circle cx="249.0" cy="1709.3" r="10.7" fill="#000"/>
<circle cx="255.4" cy="1726.4" r="10.7" fill="#000"/>
<circle cx="261.6" cy="1735.6" r="10.7" fill="#000"/>
<circle cx="267.4" cy="1713.0" r="10.7" fill="#000"/>
<circle cx="272.7" cy="1681.0" r="10.7" fill="#000"/>
<circle cx="278.4" cy="1562.8" r="10.7" fill="#000"/>
<circle cx="284.5" cy="1585.0" r="10.7" fill="#000"/>
<circle cx="289.8" cy="1758.5" r="10.7" fill="#000"/>
<circle cx="296.0" cy="1655.8" r="10.7" fill="#000"/>
<circle cx="301.8" cy="1780.0" r="10.7" fill="#000"/>
<circle cx="307.9" cy="1686.7" r="10.7" fill="#000"/>
<circle cx="313.5" cy="1631.6" r="10.7" fill="#000"/>
<circle cx="319.7" cy="1629.8" r="10.7" fill="#000"/>
<circle cx="324.7" cy="1648.1" r="10.7" fill="#000"/>
<circle cx="331.1" cy="1697.4" r="10.7" fill="#000"/>
<circle cx="337.2" cy="1711.1" r="10.7" fill="#000"/>
<circle cx="343.0" cy="1650.7" r="10.7" fill="#000"/>
<circle cx="348.7" cy="1671.4" r="10.7" fill="#000"/>
<circle cx="354.1" cy="1684.4" r="10.7" fill="#000"/>
<circle cx="360.6" cy="1634.4" r="10.7" fill="#000"/>
<circle cx="366.0" cy="1678.0" r="10.7" fill="#000"/>
<circle cx="372.1" cy="1673.7" r="10.7" fill="#000"/>
<circle cx="377.8" cy="1695.1" r="10.7" fill="#000"/>
<circle cx="383.9" cy="1713.0" r="10.7" fill="#000"/>
<circle cx="389.2" cy="1647.7" r="10.7" fill="#000"/>
<circle cx="395.0" cy="1591.9" r="10.7" fill="#000"/>
<circle cx="401.5" cy="1677.5" r="10.7" fill="#000"/>
<circle cx="405.7" cy="1692.8" r="10.7" fill="#000"/>
<circle cx="412.9" cy="1666.0" r="10.7" fill="#000"/>
<circle cx="418.3" cy="1698.1" r="10.7" fill="#000"/>
<circle cx="424.4" cy="1677.5" r="10.7" fill="#000"/>
<circle cx="430.4" cy="1731.8" r="10.7" fill="#000"/>
<circle cx="436.5" cy="1692.8" r="10.7" fill="#000"/>
<circle cx="442.2" cy="1646.9" r="10.7" fill="#000"/>
<circle cx="448.3" cy="1642.3" r="10.7" fill="#000"/>
<circle cx="453.6" cy="1770.8" r="10.7" fill="#000"/>
<circle cx="459.0" cy="1749.4" r="10.7" fill="#000"/>
<circle cx="465.9" cy="1747.8" r="10.7" fill="#000"/>
<circle cx="471.2" cy="1713.4" r="10.7" fill="#000"/>
<circle cx="477.3" cy="1750.9" r="10.7" fill="#000"/>
<circle cx="483.0" cy="1663.4" r="10.7" fill="#000"/>
<circle cx="488.8" cy="1693.2" r="10.7" fill="#000"/>
<circle cx="494.6" cy="1681.0" r="10.7" fill="#000"/>
<circle cx="500.6" cy="1705.5" r="10.7" fill="#000"/>
<circle cx="506.4" cy="1557.5" r="10.7" fill="#000"/>
<circle cx="511.7" cy="1723.4" r="10.7" fill="#000"/>
<circle cx="517.9" cy="1738.3" r="10.7" fill="#000"/>
<circle cx="524.0" cy="1563.1" r="10.7" fill="#000"/>
<circle cx="529.8" cy="1650.7" r="10.7" fill="#000"/>
<circle cx="535.7" cy="1708.8" r="10.7" fill="#000"/>
<circle cx="541.6" cy="1559.8" r="10.7" fill="#000"/>
<circle cx="546.9" cy="1679.5" r="10.7" fill="#000"/>
<circle cx="553.0" cy="1682.1" r="10.7" fill="#000"/>
<circle cx="559.1" cy="1659.9" r="10.7" fill="#000"/>
<circle cx="564.5" cy="1757.0" r="10.7" fill="#000"/>
<circle cx="570.6" cy="1757.0" r="10.7" fill="#000"/>
<circle cx="576.3" cy="1587.0" r="10.7" fill="#000"/>
<circle cx="582.4" cy="1661.0" r="10.7" fill="#000"/>
<circle cx="587.9" cy="1713.4" r="10.7" fill="#000"/>
<circle cx="594.0" cy="1694.3" r="10.7" fill="#000"/>
<circle cx="599.7" cy="1672.9" r="10.7" fill="#000"/>
<circle cx="605.8" cy="1708.8" r="10.7" fill="#000"/>
<circle cx="611.9" cy="1670.6" r="10.7" fill="#000"/>
<circle cx="617.2" cy="1720.3" r="10.7" fill="#000"/>
<circle cx="623.1" cy="1586.5" r="10.7" fill="#000"/>
<circle cx="629.2" cy="1630.9" r="10.7" fill="#000"/>
<circle cx="634.8" cy="1674.4" r="10.7" fill="#000"/>
<circle cx="641.0" cy="1587.0" r="10.7" fill="#000"/>
<circle cx="646.6" cy="1649.2" r="10.7" fill="#000"/>
<circle cx="652.4" cy="1625.2" r="10.7" fill="#000"/>
<circle cx="658.2" cy="1708.5" r="10.7" fill="#000"/>
<circle cx="663.9" cy="1668.3" r="10.7" fill="#000"/>
<circle cx="670.0" cy="1641.6" r="10.7" fill="#000"/>
<circle cx="675.8" cy="1719.5" r="10.7" fill="#000"/>
<circle cx="681.5" cy="1768.5" r="10.7" fill="#000"/>
<circle cx="687.3" cy="1789.1" r="10.7" fill="#000"/>
<circle cx="693.7" cy="1770.0" r="10.7" fill="#000"/>
<circle cx="699.2" cy="1700.1" r="10.7" fill="#000"/>
<circle cx="705.0" cy="1721.5" r="10.7" fill="#000"/>
<circle cx="710.6" cy="1650.0" r="10.7" fill="#000"/>
<circle cx="716.3" cy="1640.0" r="10.7" fill="#000"/>
<circle cx="722.4" cy="1648.1" r="10.7" fill="#000"/>
<circle cx="728.2" cy="1727.6" r="10.7" fill="#000"/>
<circle cx="734.3" cy="1770.8" r="10.7" fill="#000"/>
<circle cx="804.4" cy="1674.4" r="10.7" fill="#000"/>
<circle cx="810.5" cy="1734.4" r="10.7" fill="#000"/>
<circle cx="816.1" cy="1702.7" r="10.7" fill="#000"/>
<circle cx="822.0" cy="1700.0" r="10.7" fill="#000"/>
<circle cx="827.6" cy="1699.7" r="10.7" fill="#000"/>
<circle cx="833.7" cy="1718.8" r="10.7" fill="#000"/>
<circle cx="840.6" cy="1700.4" r="10.7" fill="#000"/>
<circle cx="845.2" cy="1686.7" r="10.7" fill="#000"/>
<circle cx="851.3" cy="1685.9" r="10.7" fill="#000"/>
<circle cx="857.1" cy="1560.5" r="10.7" fill="#000"/>
<circle cx="862.5" cy="1763.9" r="10.7" fill="#000"/>
<circle cx="868.6" cy="1704.7" r="10.7" fill="#000"/>
<circle cx="874.3" cy="1628.9" r="10.7" fill="#000"/>
<circle cx="880.4" cy="1539.1" r="10.7" fill="#000"/>
<circle cx="886.5" cy="1786.1" r="10.7" fill="#000"/>
<circle cx="891.8" cy="1685.9" r="10.7" fill="#000"/>
<circle cx="897.6" cy="1723.1" r="10.7" fill="#000"/>
<circle cx="903.8" cy="1733.3" r="10.7" fill="#000"/>
<circle cx="909.7" cy="1660.7" r="10.7" fill="#000"/>
<circle cx="914.8" cy="1678.3" r="10.7" fill="#000"/>
<circle cx="920.9" cy="1689.7" r="10.7" fill="#000"/>
<circle cx="926.7" cy="1691.3" r="10.7" fill="#000"/>
<circle cx="932.8" cy="1569.7" r="10.7" fill="#000"/>
<circle cx="938.5" cy="1602.6" r="10.7" fill="#000"/>
<circle cx="944.6" cy="1695.5" r="10.7" fill="#000"/>
<circle cx="950.4" cy="1559.0" r="10.7" fill="#000"/>
<circle cx="956.1" cy="1709.6" r="10.7" fill="#000"/>
<circle cx="961.9" cy="1621.7" r="10.7" fill="#000"/>
<circle cx="968.0" cy="1730.2" r="10.7" fill="#000"/>
<circle cx="973.6" cy="1770.8" r="10.7" fill="#000"/>
<line x1="1240.9" y1="1302.0" x2="1240.9" y2="1854.9" stroke="#000" stroke-width="3.4" stroke-linecap="butt"/>
<line x1="1223.3" y1="1853.2" x2="2067.0" y2="1853.2" stroke="#000" stroke-width="3.4" stroke-linecap="butt"/>
<line x1="1223.3" y1="1303.7" x2="1240.9" y2="1303.7" stroke="#000" stroke-width="3.4" stroke-linecap="round"/>
<text x="1217.5" y="1319.2" font-size="46.5" font-weight="bold" text-anchor="end" fill="#000" >20</text>
<line x1="1223.3" y1="1441.3" x2="1240.9" y2="1441.3" stroke="#000" stroke-width="3.4" stroke-linecap="round"/>
<text x="1217.5" y="1456.8" font-size="46.5" font-weight="bold" text-anchor="end" fill="#000" >15</text>
<line x1="1223.3" y1="1578.9" x2="1240.9" y2="1578.9" stroke="#000" stroke-width="3.4" stroke-linecap="round"/>
<text x="1217.5" y="1594.4" font-size="46.5" font-weight="bold" text-anchor="end" fill="#000" >10</text>
<line x1="1223.3" y1="1716.5" x2="1240.9" y2="1716.5" stroke="#000" stroke-width="3.4" stroke-linecap="round"/>
<text x="1217.5" y="1732.0" font-size="46.5" font-weight="bold" text-anchor="end" fill="#000" >5</text>
<line x1="1223.3" y1="1853.2" x2="1240.9" y2="1853.2" stroke="#000" stroke-width="3.4" stroke-linecap="round"/>
<text x="1217.5" y="1868.7" font-size="46.5" font-weight="bold" text-anchor="end" fill="#000" >0</text>
<line x1="1447.9" y1="1853.2" x2="1447.9" y2="1872.5" stroke="#000" stroke-width="3.4" stroke-linecap="round"/>
<line x1="1859.5" y1="1853.2" x2="1859.5" y2="1872.5" stroke="#000" stroke-width="3.4" stroke-linecap="round"/>
<text x="1362.5" y="1929.0" font-size="46" font-weight="bold" text-anchor="start" fill="#000" >Control</text>
<text x="1800.0" y="1929.0" font-size="46" font-weight="bold" text-anchor="start" fill="#000" >TGOT</text>
<text transform="translate(1143.8,1708.4) rotate(-90)" font-size="51" font-weight="bold" textLength="237.8" lengthAdjust="spacingAndGlyphs">PSP (mV)</text>
<line x1="1447.9" y1="1404.0" x2="1859.8" y2="1451.0" stroke="#000" stroke-width="4.0" stroke-linecap="butt"/>
<line x1="1447.9" y1="1656.2" x2="1859.8" y2="1649.8" stroke="#000" stroke-width="4.0" stroke-linecap="butt"/>
<line x1="1447.9" y1="1732.6" x2="1859.8" y2="1725.0" stroke="#000" stroke-width="4.0" stroke-linecap="butt"/>
<line x1="1447.9" y1="1781.9" x2="1859.8" y2="1788.9" stroke="#000" stroke-width="4.0" stroke-linecap="butt"/>
<line x1="1447.9" y1="1801.8" x2="1859.8" y2="1803.1" stroke="#000" stroke-width="4.0" stroke-linecap="butt"/>
<line x1="1447.9" y1="1810.3" x2="1859.8" y2="1810.2" stroke="#000" stroke-width="4.0" stroke-linecap="butt"/>
<line x1="1447.9" y1="1820.3" x2="1859.8" y2="1837.2" stroke="#000" stroke-width="4.0" stroke-linecap="butt"/>
<circle cx="1447.9" cy="1404.0" r="10.9" fill="#000"/>
<circle cx="1859.8" cy="1451.0" r="10.9" fill="#000"/>
<circle cx="1447.9" cy="1656.2" r="10.9" fill="#000"/>
<circle cx="1859.8" cy="1649.8" r="10.9" fill="#000"/>
<circle cx="1447.9" cy="1732.6" r="10.9" fill="#000"/>
<circle cx="1859.8" cy="1725.0" r="10.9" fill="#000"/>
<circle cx="1447.9" cy="1781.9" r="10.9" fill="#000"/>
<circle cx="1859.8" cy="1788.9" r="10.9" fill="#000"/>
<circle cx="1447.9" cy="1801.8" r="10.9" fill="#000"/>
<circle cx="1859.8" cy="1803.1" r="10.9" fill="#000"/>
<circle cx="1447.9" cy="1810.3" r="10.9" fill="#000"/>
<circle cx="1859.8" cy="1810.2" r="10.9" fill="#000"/>
<circle cx="1447.9" cy="1820.3" r="10.9" fill="#000"/>
<circle cx="1859.8" cy="1837.2" r="10.9" fill="#000"/>
<line x1="1414.1" y1="1654.8" x2="1414.1" y2="1766.3" stroke="#ED1C24" stroke-width="7.1" stroke-linecap="butt"/>
<line x1="1403.3" y1="1654.8" x2="1424.8" y2="1654.8" stroke="#ED1C24" stroke-width="7.1" stroke-linecap="round"/>
<line x1="1403.3" y1="1766.3" x2="1424.8" y2="1766.3" stroke="#ED1C24" stroke-width="7.1" stroke-linecap="round"/>
<circle cx="1414.1" cy="1713.8" r="14.6" fill="#ED1C24"/>
<line x1="1901.7" y1="1670.4" x2="1901.7" y2="1772.6" stroke="#ED1C24" stroke-width="7.1" stroke-linecap="butt"/>
<line x1="1891.0" y1="1670.4" x2="1912.5" y2="1670.4" stroke="#ED1C24" stroke-width="7.1" stroke-linecap="round"/>
<line x1="1891.0" y1="1772.6" x2="1912.5" y2="1772.6" stroke="#ED1C24" stroke-width="7.1" stroke-linecap="round"/>
<circle cx="1901.7" cy="1721.1" r="14.3" fill="#ED1C24"/>
</svg>
</body></html>
